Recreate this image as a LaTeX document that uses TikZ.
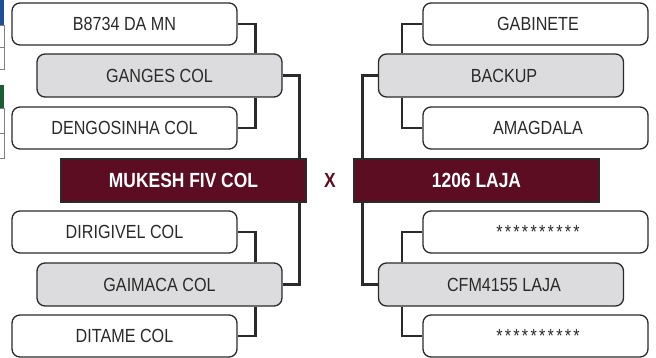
\documentclass[tikz,border=0pt]{standalone}
\usepackage{fontspec}
\setmainfont{Liberation Sans}[FakeStretch=0.85]
\definecolor{wine}{HTML}{5C0D22}
\definecolor{lightgray}{HTML}{DCDCDE}
\definecolor{ink}{HTML}{2A2A2A}
\definecolor{tabblue}{HTML}{1F4E9A}
\definecolor{tabgreen}{HTML}{1B5E34}
\begin{document}
\begin{tikzpicture}[x=1pt,y=-1pt,
  team/.style={draw=ink,line width=1.3pt,rounded corners=8pt,fill=white,
    minimum width=225pt,minimum height=42pt,inner sep=0pt,
    font=\fontsize{19}{19}\selectfont,text=ink},
  semi/.style={team,fill=lightgray,minimum width=245pt,minimum height=43pt},
  final/.style={draw=ink,line width=1.3pt,fill=wine,minimum width=245pt,
    minimum height=43pt,inner sep=0pt,text=white,
    font=\fontsize{20.5}{20.5}\selectfont\bfseries},
  link/.style={draw=ink,line width=2.4pt}]
\useasboundingbox (0,0) rectangle (656,358);
% cut-off tables at the left edge
\fill[tabblue] (0,0) rectangle (4,25);
\draw[ink!60,line width=0.8pt] (0,25) -- (4,25) -- (4,69) -- (0,69) (0,47) -- (4,47);
\fill[tabgreen] (0,85) rectangle (4,108);
\draw[ink!60,line width=0.8pt] (0,108) -- (4,108) -- (4,158) -- (0,158) (0,133) -- (4,133);
% left half
\node[team] (b8734) at (124.5,24) {B8734 DA MN\hspace{8pt}};
\node[semi] (ganges) at (159.5,75.5) {GANGES COL\hspace{8pt}};
\node[team] (dengo) at (124.5,128) {DENGOSINHA COL\hspace{8pt}};
\node[team] (dirig) at (124.5,232) {DIRIGIVEL COL\hspace{8pt}};
\node[semi] (gaimaca) at (159.5,284.5) {GAIMACA COL\hspace{8pt}};
\node[team] (ditame) at (124.5,336) {DITAME COL\hspace{8pt}};
\node[final] (mukesh) at (183.5,180.5) {MUKESH FIV COL};
% right half
\node[team] (gabinete) at (535.5,24) {\hspace{5pt}GABINETE};
\node[semi] (backup) at (501,75.5) {\hspace{6pt}BACKUP};
\node[team] (amagdala) at (535.5,128) {\hspace{5pt}AMAGDALA};
\node[team] (staru) at (535.5,232) {\hspace{5pt}\addfontfeature{LetterSpace=12}**********};
\node[semi] (cfm) at (501,284.5) {\hspace{6pt}CFM4155 LAJA};
\node[team] (stard) at (535.5,336) {\hspace{5pt}\addfontfeature{LetterSpace=12}**********};
\node[final] (laja) at (476.5,180.5) {1206 LAJA};
\node[text=wine,font=\fontsize{20.5}{20.5}\selectfont\bfseries] (vs) at (330,180.5) {X};
% bracket lines
\draw[link] (b8734.east) -| ([xshift=-27pt]ganges.north east);
\draw[link] (dengo.east) -| ([xshift=-27pt]ganges.south east);
\draw[link] (ganges.east) -| ([xshift=-7pt]mukesh.north east);
\draw[link] (dirig.east) -| ([xshift=-27pt]gaimaca.north east);
\draw[link] (ditame.east) -| ([xshift=-27pt]gaimaca.south east);
\draw[link] (gaimaca.east) -| ([xshift=-7pt]mukesh.south east);
\draw[link] (gabinete.west) -| ([xshift=24pt]backup.north west);
\draw[link] (amagdala.west) -| ([xshift=24pt]backup.south west);
\draw[link] (backup.west) -| ([xshift=9pt]laja.north west);
\draw[link] (staru.west) -| ([xshift=24pt]cfm.north west);
\draw[link] (stard.west) -| ([xshift=24pt]cfm.south west);
\draw[link] (cfm.west) -| ([xshift=9pt]laja.south west);
\end{tikzpicture}
\end{document}
